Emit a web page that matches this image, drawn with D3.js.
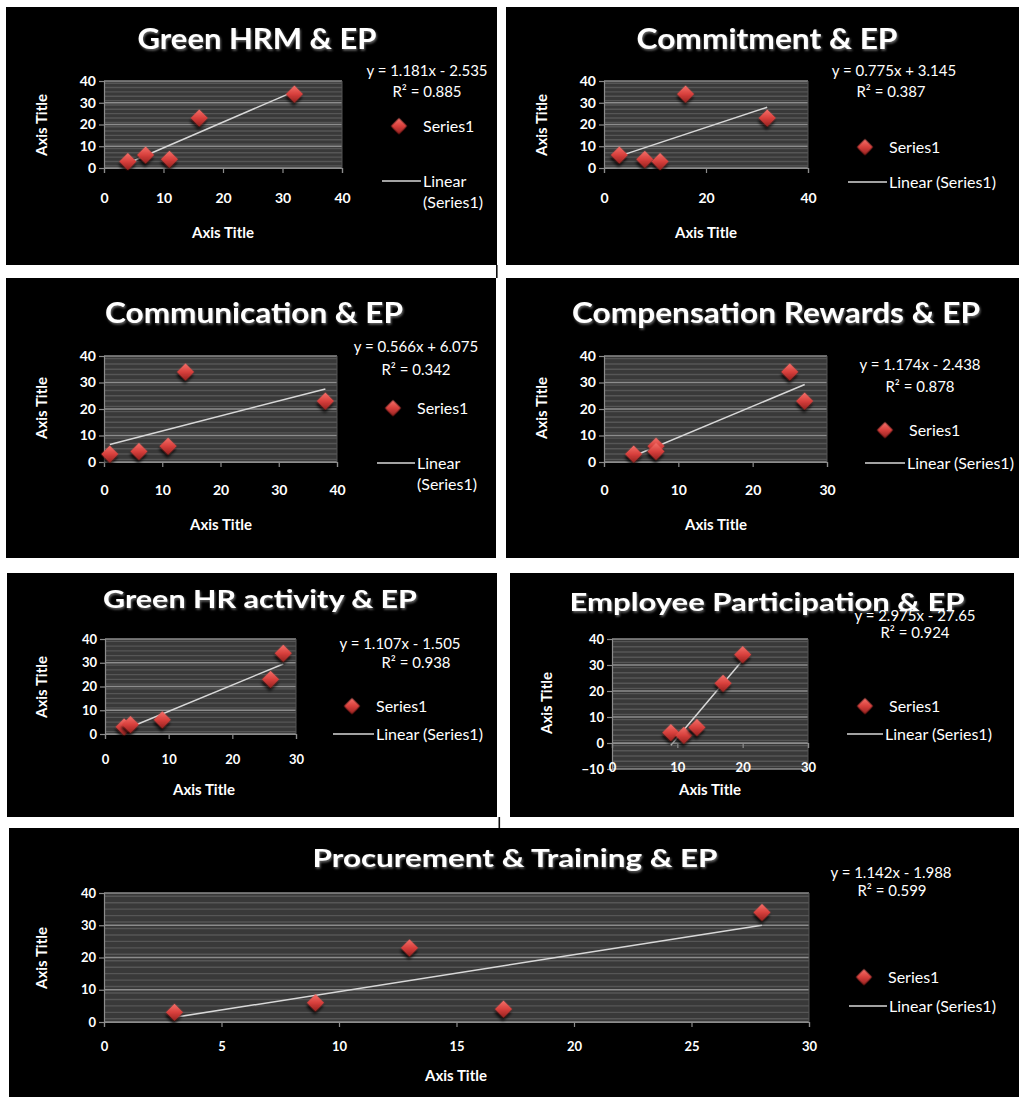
<!DOCTYPE html>
<html>
<head>
<meta charset="utf-8">
<script src="https://cdn.jsdelivr.net/npm/d3@7"></script>
<style>
  html, body { margin: 0; padding: 0; background: #fff; }
  svg { display: block; }
  text { font-family: Lato, "Open Sans", "DejaVu Sans", sans-serif; fill: #fff; }
</style>
</head>
<body>
<svg id="chart" width="1019" height="1097"></svg>
<script>
// ---- data ----
const panelTitles = [
  "Green HRM & EP",
  "Commitment & EP",
  "Communication & EP",
  "Compensation Rewards & EP",
  "Green HR activity & EP",
  "Employee Participation & EP",
  "Procurement & Training & EP"
];
const xValues = [
  [4, 7, 11, 16, 32],
  [3, 8, 11, 16, 32],
  [1, 6, 11, 14, 38],
  [4, 7, 7, 25, 27],
  [3, 4, 9, 26, 28],
  [9, 11, 13, 17, 20],
  [3, 9, 13, 17, 28]
];
const yValues = [
  [3, 6, 4, 23, 34],
  [6, 4, 3, 34, 23],
  [3, 4, 6, 34, 23],
  [3, 6, 4, 34, 23],
  [3, 4, 6, 23, 34],
  [4, 3, 6, 23, 34],
  [3, 6, 23, 4, 34]
];
const slopes = [1.181, 0.775, 0.566, 1.174, 1.107, 2.975, 1.142];
const intercepts = [-2.535, 3.145, 6.075, -2.438, -1.505, -27.65, -1.988];
const rSquared = [0.885, 0.387, 0.342, 0.878, 0.938, 0.924, 0.599];
const xTickValues = [
  [0, 10, 20, 30, 40],
  [0, 20, 40],
  [0, 10, 20, 30, 40],
  [0, 10, 20, 30],
  [0, 10, 20, 30],
  [0, 10, 20, 30],
  [0, 5, 10, 15, 20, 25, 30]
];
const yTickValues = [
  [0, 10, 20, 30, 40],
  [0, 10, 20, 30, 40],
  [0, 10, 20, 30, 40],
  [0, 10, 20, 30, 40],
  [0, 10, 20, 30, 40],
  [-10, 0, 10, 20, 30, 40],
  [0, 10, 20, 30, 40]
];
const seriesName = "Series1";
const trendName = "Linear (Series1)";
const axisTitle = "Axis Title";

// ---- layout of each chart box ----
const layout = [
  { frame: [6, 7, 497, 265], plot: [104, 81, 342, 168], title: { cx: 257, y: 49, size: 28, w: 239 },
    eq: { cx: 427, y: 71 }, r2: { cx: 427, y: 92 }, mark: { x: 399, y: 126 }, line: { x0: 382, x1: 421, y: 181 },
    wrap: true, xLab: 198, xTitle: { cx: 223, y: 233 }, yTitle: { cx: 42, cy: 125 }, tick: 14 },
  { frame: [506, 7, 1019, 265], plot: [604, 81, 808, 168], title: { cx: 767, y: 49, size: 28, w: 261 },
    eq: { cx: 894, y: 71 }, r2: { cx: 891, y: 92 }, mark: { x: 865, y: 147 }, line: { x0: 848, x1: 887, y: 182 },
    wrap: false, xLab: 198, xTitle: { cx: 706, y: 233 }, yTitle: { cx: 542, cy: 125 }, tick: 14 },
  { frame: [6, 278, 496, 558], plot: [104, 356, 337, 462], title: { cx: 254, y: 323, size: 28, w: 298 },
    eq: { cx: 416, y: 347 }, r2: { cx: 416, y: 370 }, mark: { x: 393, y: 408 }, line: { x0: 377, x1: 415, y: 463 },
    wrap: true, xLab: 490, xTitle: { cx: 221, y: 525 }, yTitle: { cx: 42, cy: 408 }, tick: 14 },
  { frame: [506, 278, 1019, 558], plot: [604, 356, 827, 462], title: { cx: 776, y: 323, size: 28, w: 408 },
    eq: { cx: 920, y: 365 }, r2: { cx: 920, y: 387 }, mark: { x: 885, y: 430 }, line: { x0: 865, x1: 905, y: 463 },
    wrap: false, xLab: 490, xTitle: { cx: 716, y: 525 }, yTitle: { cx: 542, cy: 408 }, tick: 14 },
  { frame: [7, 573, 497, 817], plot: [105, 639, 296, 734], title: { cx: 260, y: 608, size: 25, w: 314 },
    eq: { cx: 400, y: 644 }, r2: { cx: 416, y: 663 }, mark: { x: 352, y: 706 }, line: { x0: 333, x1: 374, y: 734 },
    wrap: false, xLab: 759, xTitle: { cx: 204, y: 790 }, yTitle: { cx: 42, cy: 687 }, tick: 13 },
  { frame: [510, 573, 1014, 817], plot: [612, 639, 808, 769], title: { cx: 767, y: 611, size: 25, w: 395 },
    eq: { cx: 915, y: 616 }, r2: { cx: 915, y: 633 }, mark: { x: 865, y: 706 }, line: { x0: 847, x1: 883, y: 734 },
    wrap: false, xLab: 767, xTitle: { cx: 710, y: 790 }, yTitle: { cx: 547, cy: 703 }, tick: 13 },
  { frame: [9, 828, 1019, 1097], plot: [104, 893, 809, 1022], title: { cx: 515, y: 867, size: 25, w: 405 },
    eq: { cx: 891, y: 873 }, r2: { cx: 892, y: 891 }, mark: { x: 864, y: 977 }, line: { x0: 849, x1: 887, y: 1006 },
    wrap: false, xLab: 1046, xTitle: { cx: 456, y: 1076 }, yTitle: { cx: 42, cy: 958 }, tick: 13 }
];

const svg = d3.select("#chart");
const defs = svg.append("defs");

// red diamond shading
const grad = defs.append("linearGradient").attr("id", "diamondFill")
  .attr("x1", "0").attr("y1", "0").attr("x2", "1").attr("y2", "1");
grad.append("stop").attr("offset", "0").attr("stop-color", "#f4716b");
grad.append("stop").attr("offset", "0.5").attr("stop-color", "#d8403c");
grad.append("stop").attr("offset", "1").attr("stop-color", "#962220");

const shadow = defs.append("filter").attr("id", "markShadow")
  .attr("x", "-50%").attr("y", "-50%").attr("width", "200%").attr("height", "200%");
shadow.append("feDropShadow").attr("dx", 2).attr("dy", 3).attr("stdDeviation", 1.8)
  .attr("flood-color", "#000").attr("flood-opacity", 0.8);

const glow = defs.append("filter").attr("id", "titleGlow")
  .attr("x", "-10%").attr("y", "-40%").attr("width", "120%").attr("height", "180%");
glow.append("feDropShadow").attr("dx", 1).attr("dy", 1.5).attr("stdDeviation", 1)
  .attr("flood-color", "#8a8a8a").attr("flood-opacity", 0.8);

const markSize = 150;
const diamond = d3.symbol().type(d3.symbolSquare).size(markSize);
const legendDiamond = d3.symbol().type(d3.symbolSquare).size(125);

// thin dark joins between the boxes
svg.append("rect").attr("x", 496).attr("y", 265).attr("width", 1.6).attr("height", 13).attr("fill", "#111");
svg.append("rect").attr("x", 498.5).attr("y", 817).attr("width", 1.6).attr("height", 11).attr("fill", "#111");

function fit(sel, w) {
  const n = sel.node().getComputedTextLength();
  if (Math.abs(n - w) > 2) sel.attr("textLength", w).attr("lengthAdjust", "spacingAndGlyphs");
}

layout.forEach((L, i) => {
  const [fx0, fy0, fx1, fy1] = L.frame;
  const [px0, py0, px1, py1] = L.plot;
  const clipId = "clip" + i;
  defs.append("clipPath").attr("id", clipId)
    .append("rect").attr("x", fx0).attr("y", fy0).attr("width", fx1 - fx0).attr("height", fy1 - fy0);

  const g = svg.append("g").attr("clip-path", `url(#${clipId})`);
  g.append("rect").attr("x", fx0).attr("y", fy0).attr("width", fx1 - fx0).attr("height", fy1 - fy0).attr("fill", "#000");

  const xs = xTickValues[i], ys = yTickValues[i];
  const x = d3.scaleLinear().domain(d3.extent(xs)).range([px0, px1]);
  const y = d3.scaleLinear().domain(d3.extent(ys)).range([py1, py0]);

  // plot area with fine stripes and major gridlines
  g.append("rect").attr("x", px0).attr("y", py0).attr("width", px1 - px0).attr("height", py1 - py0)
    .attr("fill", "#393939");
  const minor = d3.range(y.domain()[0] + 1, y.domain()[1], 2);
  g.append("g").selectAll("line").data(minor).join("line")
    .attr("x1", px0).attr("x2", px1).attr("y1", d => y(d)).attr("y2", d => y(d))
    .attr("stroke", "#565656").attr("stroke-width", 1.4);
  g.append("g").selectAll("line").data(ys).join("line")
    .attr("x1", px0).attr("x2", px1).attr("y1", d => y(d)).attr("y2", d => y(d))
    .attr("stroke", "#8c8c8c").attr("stroke-width", 1.7);
  g.append("line").attr("x1", px1).attr("x2", px1).attr("y1", py0).attr("y2", py1)
    .attr("stroke", "#555").attr("stroke-width", 1);

  // axes
  const yAxis = g.append("g").attr("transform", `translate(${px0},0)`)
    .call(d3.axisLeft(y).tickValues(ys).tickSize(5).tickPadding(3).tickFormat(d3.format("d")));
  const xAxisY = y(Math.max(0, y.domain()[0]));
  const xAxis = g.append("g").attr("transform", `translate(0,${xAxisY})`)
    .call(d3.axisBottom(x).tickValues(xs).tickSize(5).tickFormat(d3.format("d")));
  [yAxis, xAxis].forEach(a => {
    a.select(".domain").attr("stroke", "#8c8c8c").attr("stroke-width", 1.2);
    a.selectAll(".tick line").attr("stroke", "#8c8c8c").attr("stroke-width", 1.2);
    a.selectAll(".tick text").attr("fill", "#fff").style("font-family", "Lato, sans-serif")
      .style("font-weight", 700).style("font-size", L.tick + "px");
  });
  xAxis.selectAll(".tick text").attr("y", L.xLab - xAxisY).attr("dy", "0.35em");

  // trend line from the fitted equation
  const xr = d3.extent(xValues[i]);
  g.append("path")
    .datum(xr.map(v => [v, slopes[i] * v + intercepts[i]]))
    .attr("d", d3.line().x(d => x(d[0])).y(d => y(d[1])))
    .attr("stroke", "#d8d8d8").attr("stroke-width", 1.5).attr("fill", "none");

  // markers
  g.append("g").selectAll("path").data(xValues[i].map((v, k) => [v, yValues[i][k]])).join("path")
    .attr("d", diamond)
    .attr("transform", d => `translate(${x(d[0])},${y(d[1])}) rotate(45)`)
    .attr("fill", "url(#diamondFill)").attr("filter", "url(#markShadow)");

  // title
  const t = g.append("text").attr("x", L.title.cx).attr("y", L.title.y).attr("text-anchor", "middle")
    .style("font-size", L.title.size + "px").style("font-weight", 700).attr("filter", "url(#titleGlow)")
    .text(panelTitles[i]);
  fit(t, L.title.w);

  // axis titles
  g.append("text").attr("x", L.xTitle.cx).attr("y", L.xTitle.y).attr("dy", "0.35em").attr("text-anchor", "middle")
    .style("font-size", "15px").style("font-weight", 700).text(axisTitle);
  g.append("text").attr("transform", `translate(${L.yTitle.cx},${L.yTitle.cy}) rotate(-90)`)
    .attr("dy", "0.35em").attr("text-anchor", "middle")
    .style("font-size", "15px").style("font-weight", 700).text(axisTitle);

  // regression label
  const b = intercepts[i];
  g.append("text").attr("x", L.eq.cx).attr("y", L.eq.y).attr("dy", "0.35em").attr("text-anchor", "middle")
    .style("font-size", "15px")
    .text(`y = ${slopes[i]}x ${b < 0 ? "-" : "+"} ${Math.abs(b)}`);
  g.append("text").attr("x", L.r2.cx).attr("y", L.r2.y).attr("dy", "0.35em").attr("text-anchor", "middle")
    .style("font-size", "15px")
    .text(`R² = ${rSquared[i]}`);

  // legend
  g.append("path").attr("d", legendDiamond)
    .attr("transform", `translate(${L.mark.x},${L.mark.y}) rotate(45)`)
    .attr("fill", "url(#diamondFill)").attr("filter", "url(#markShadow)");
  g.append("text").attr("x", L.mark.x + 24).attr("y", L.mark.y).attr("dy", "0.35em")
    .style("font-size", "16px").text(seriesName);
  g.append("line").attr("x1", L.line.x0).attr("x2", L.line.x1).attr("y1", L.line.y).attr("y2", L.line.y)
    .attr("stroke", "#d8d8d8").attr("stroke-width", 1.5);
  const lt = g.append("text").attr("x", L.line.x1 + 2).attr("y", L.line.y).attr("dy", "0.35em")
    .style("font-size", "16px");
  if (L.wrap) {
    const parts = trendName.split(" ");
    lt.append("tspan").text(parts[0]);
    lt.append("tspan").attr("x", L.line.x1 + 2).attr("dy", "1.35em").text(parts[1]);
  } else {
    lt.text(trendName);
  }
});
</script>
</body>
</html>
